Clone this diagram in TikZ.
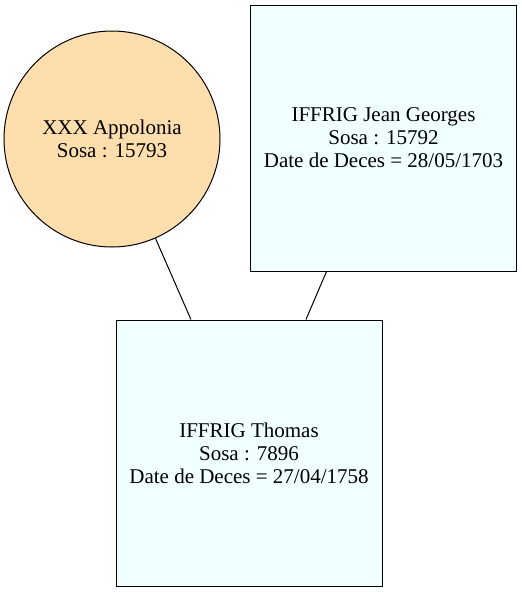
\documentclass[tikz,border=0pt]{standalone}
\usepackage{fontspec}
\setmainfont{Liberation Serif}
\usepackage{tikz}

\definecolor{boxcyan}{HTML}{F0FFFF}
\definecolor{circorange}{HTML}{FFDEAD}
\tikzset{
  person/.style={draw=black, line width=1pt, align=center, inner sep=0pt,
    font=\fontsize{21}{23}\selectfont},
  man/.style={person, rectangle, fill=boxcyan, minimum width=266pt, minimum height=266pt},
  woman/.style={person, circle, fill=circorange, minimum size=216pt}
}

\begin{document}
\begin{tikzpicture}[x=1pt,y=-1pt]
\useasboundingbox (0,0) rectangle (522,592);

\node[woman] (appolonia) at (112,139) {XXX Appolonia\\Sosa : 15793};
\node[man] (jean) at (383.5,138) {IFFRIG Jean Georges\\Sosa : 15792\\Date de Deces = 28/05/1703};
\node[man] (thomas) at (249,453) {IFFRIG Thomas\\Sosa : 7896\\Date de Deces = 27/04/1758};

\draw[line width=1pt] (appolonia) -- (thomas);
\draw[line width=1pt] (jean) -- (thomas);
\end{tikzpicture}
\end{document}
